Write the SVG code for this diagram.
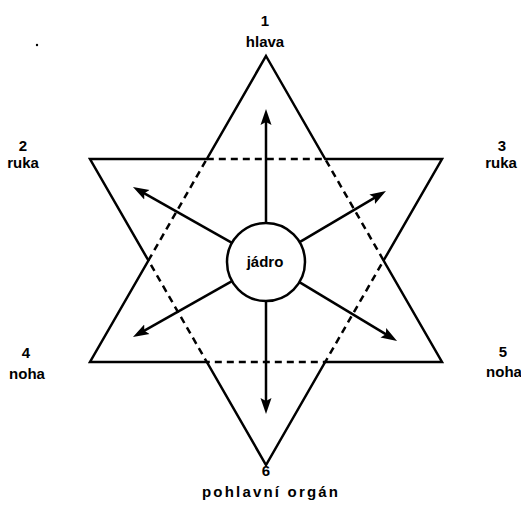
<svg xmlns="http://www.w3.org/2000/svg" width="521" height="507" viewBox="0 0 521 507">
<style>
.lbl{font-family:"Liberation Sans",Arial,sans-serif;font-weight:bold;font-size:15px;fill:#000;text-anchor:middle}
.solid{fill:none;stroke:#000;stroke-width:2.5;stroke-linejoin:miter}
.dash{fill:none;stroke:#000;stroke-width:2.5;stroke-dasharray:7 5}
.arr{stroke:#000;stroke-width:2.5;fill:none;marker-end:url(#ah)}
</style>
<defs>
<marker id="ah" markerUnits="userSpaceOnUse" markerWidth="18" markerHeight="12" refX="10" refY="6" orient="auto">
<path d="M0,0.5 L16,6 L0,11.5 L3,6 Z" fill="#000"/>
</marker>
</defs>
<rect width="521" height="507" fill="#fff"/>
<g id="star">
<polygon class="solid" points="266,56 325.2,159 442,159 383.6,260.5 442,362 325.2,362 266,465 206.8,362 90,362 148.4,260.5 90,159 206.8,159"/>
<polygon class="dash" points="206.8,159 325.2,159 383.6,260.5 325.2,362 206.8,362 148.4,260.5"/>
</g>
<g id="connectors">
<line class="arr" x1="266" y1="223" x2="266" y2="115"/>
<line class="arr" x1="266" y1="301" x2="266" y2="408"/>
<line class="arr" x1="232" y1="242.8" x2="138.2" y2="189.9"/>
<line class="arr" x1="299.6" y1="242.1" x2="380.8" y2="194.1"/>
<line class="arr" x1="232" y1="281.2" x2="138.2" y2="334.1"/>
<line class="arr" x1="299.4" y1="282.1" x2="391.9" y2="337.9"/>
</g>
<g id="core">
<circle cx="266" cy="262" r="39" fill="#fff" stroke="#000" stroke-width="2.5"/>
<text class="lbl" x="265" y="267">jádro</text>
</g>
<g id="n1"><text class="lbl" x="265" y="26">1</text><text class="lbl" x="265" y="47">hlava</text></g>
<g id="n2"><text class="lbl" x="23" y="151">2</text><text class="lbl" x="23" y="168">ruka</text></g>
<g id="n3"><text class="lbl" x="502" y="151">3</text><text class="lbl" x="501" y="168">ruka</text></g>
<g id="n4"><text class="lbl" x="26" y="358">4</text><text class="lbl" x="27" y="379">noha</text></g>
<g id="n5"><text class="lbl" x="503" y="357">5</text><text class="lbl" x="504" y="377">noha</text></g>
<g id="n6"><text class="lbl" x="266" y="476">6</text><text class="lbl" x="270" y="497" textLength="136" lengthAdjust="spacing">pohlavní orgán</text></g>
<circle cx="37" cy="45" r="1.2" fill="#000"/>
</svg>
